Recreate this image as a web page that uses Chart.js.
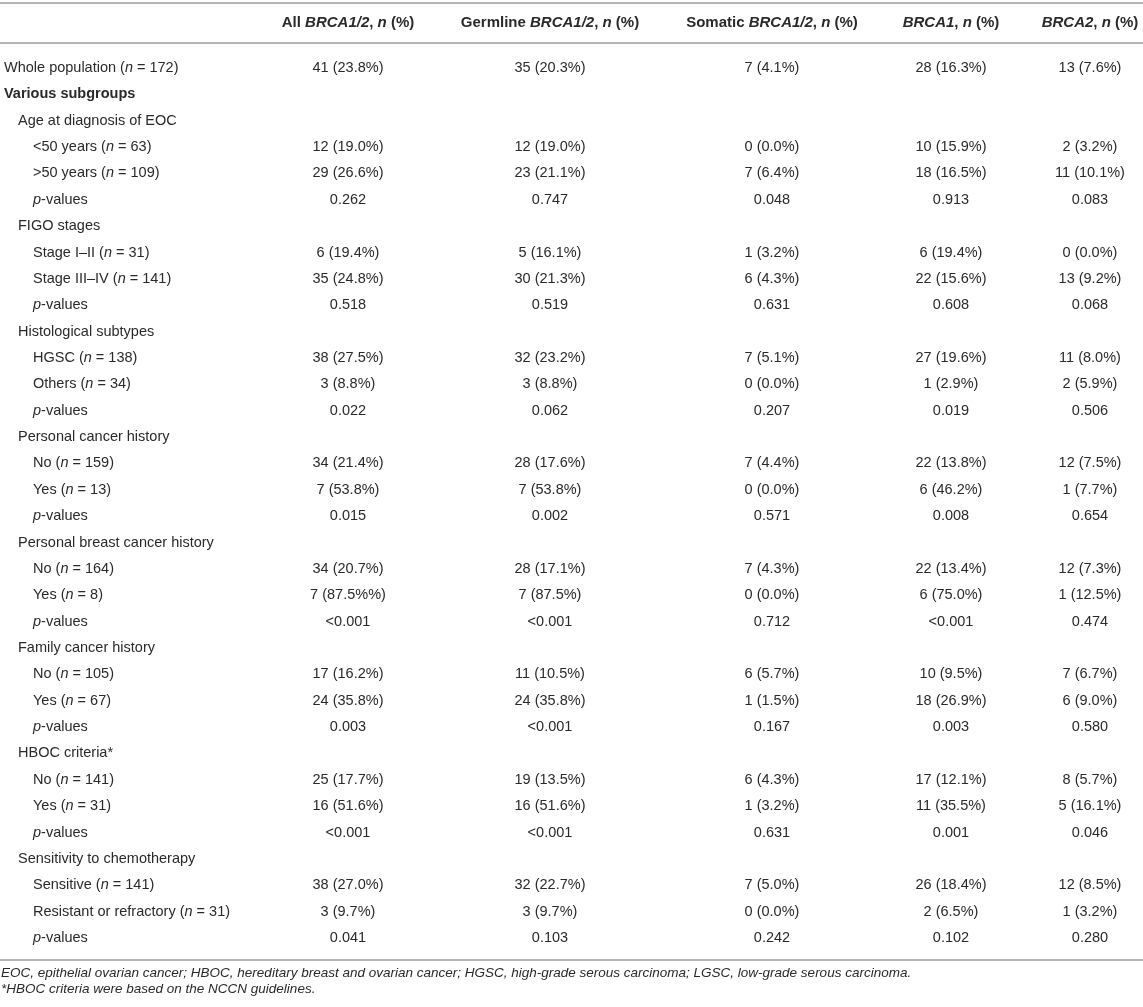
<!DOCTYPE html>
<html><head><meta charset="utf-8">
<script src="https://cdn.jsdelivr.net/npm/chart.js@4.4.0/dist/chart.umd.min.js"></script>
<style>html,body{margin:0;padding:0;background:#fff;}canvas{display:block;}</style>
</head><body>
<canvas id="c" width="1143" height="1007" style="width:1143px;height:1007px"></canvas>
<script>
// ---- data (underscores mark italic segments) ----
const HEADERS = ["All _BRCA1/2_, _n_ (%)", "Germline _BRCA1/2_, _n_ (%)", "Somatic _BRCA1/2_, _n_ (%)", "_BRCA1_, _n_ (%)", "_BRCA2_, _n_ (%)"];
const ROW_LABELS = [
  "Whole population (_n_ = 172)", "Various subgroups",
  "Age at diagnosis of EOC", "<50 years (_n_ = 63)", ">50 years (_n_ = 109)", "_p_-values",
  "FIGO stages", "Stage I–II (_n_ = 31)", "Stage III–IV (_n_ = 141)", "_p_-values",
  "Histological subtypes", "HGSC (_n_ = 138)", "Others (_n_ = 34)", "_p_-values",
  "Personal cancer history", "No (_n_ = 159)", "Yes (_n_ = 13)", "_p_-values",
  "Personal breast cancer history", "No (_n_ = 164)", "Yes (_n_ = 8)", "_p_-values",
  "Family cancer history", "No (_n_ = 105)", "Yes (_n_ = 67)", "_p_-values",
  "HBOC criteria*", "No (_n_ = 141)", "Yes (_n_ = 31)", "_p_-values",
  "Sensitivity to chemotherapy", "Sensitive (_n_ = 141)", "Resistant or refractory (_n_ = 31)", "_p_-values"
];
const ALL_BRCA = ["41 (23.8%)", null, null, "12 (19.0%)", "29 (26.6%)", "0.262", null, "6 (19.4%)", "35 (24.8%)", "0.518", null, "38 (27.5%)", "3 (8.8%)", "0.022", null, "34 (21.4%)", "7 (53.8%)", "0.015", null, "34 (20.7%)", "7 (87.5%%)", "<0.001", null, "17 (16.2%)", "24 (35.8%)", "0.003", null, "25 (17.7%)", "16 (51.6%)", "<0.001", null, "38 (27.0%)", "3 (9.7%)", "0.041"];
const GERMLINE = ["35 (20.3%)", null, null, "12 (19.0%)", "23 (21.1%)", "0.747", null, "5 (16.1%)", "30 (21.3%)", "0.519", null, "32 (23.2%)", "3 (8.8%)", "0.062", null, "28 (17.6%)", "7 (53.8%)", "0.002", null, "28 (17.1%)", "7 (87.5%)", "<0.001", null, "11 (10.5%)", "24 (35.8%)", "<0.001", null, "19 (13.5%)", "16 (51.6%)", "<0.001", null, "32 (22.7%)", "3 (9.7%)", "0.103"];
const SOMATIC = ["7 (4.1%)", null, null, "0 (0.0%)", "7 (6.4%)", "0.048", null, "1 (3.2%)", "6 (4.3%)", "0.631", null, "7 (5.1%)", "0 (0.0%)", "0.207", null, "7 (4.4%)", "0 (0.0%)", "0.571", null, "7 (4.3%)", "0 (0.0%)", "0.712", null, "6 (5.7%)", "1 (1.5%)", "0.167", null, "6 (4.3%)", "1 (3.2%)", "0.631", null, "7 (5.0%)", "0 (0.0%)", "0.242"];
const BRCA1 = ["28 (16.3%)", null, null, "10 (15.9%)", "18 (16.5%)", "0.913", null, "6 (19.4%)", "22 (15.6%)", "0.608", null, "27 (19.6%)", "1 (2.9%)", "0.019", null, "22 (13.8%)", "6 (46.2%)", "0.008", null, "22 (13.4%)", "6 (75.0%)", "<0.001", null, "10 (9.5%)", "18 (26.9%)", "0.003", null, "17 (12.1%)", "11 (35.5%)", "0.001", null, "26 (18.4%)", "2 (6.5%)", "0.102"];
const BRCA2 = ["13 (7.6%)", null, null, "2 (3.2%)", "11 (10.1%)", "0.083", null, "0 (0.0%)", "13 (9.2%)", "0.068", null, "11 (8.0%)", "2 (5.9%)", "0.506", null, "12 (7.5%)", "1 (7.7%)", "0.654", null, "12 (7.3%)", "1 (12.5%)", "0.474", null, "7 (6.7%)", "6 (9.0%)", "0.580", null, "8 (5.7%)", "5 (16.1%)", "0.046", null, "12 (8.5%)", "1 (3.2%)", "0.280"];
const FOOTNOTES = [
  "EOC, epithelial ovarian cancer; HBOC, hereditary breast and ovarian cancer; HGSC, high-grade serous carcinoma; LGSC, low-grade serous carcinoma.",
  "*HBOC criteria were based on the NCCN guidelines."
];

// ---- layout / style ----
const SERIES = [ALL_BRCA, GERMLINE, SOMATIC, BRCA1, BRCA2];
const COL_CENTER = [348, 550, 772, 951, 1090];       // table units (x scale 0..1143)
const ROW_INDENT = [4, 4, 18, 33, 33, 33, 18, 33, 33, 33, 18, 33, 33, 33, 18, 33, 33, 33, 18, 33, 33, 33, 18, 33, 33, 33, 18, 33, 33, 33, 18, 33, 33, 33];
const ROW_BOLD = [false, true];
const FAMILY = '"Liberation Sans", Arial, Helvetica, sans-serif';
const TEXT = '#2a2a2a';
const RULE = '#b5b5b5';
const BODY_SIZE = 14.5, HEAD_SIZE = 15, FOOT_SIZE = 13.5;

function drawRich(ctx, str, x, y, size, bold, align, allItalic) {
  const parts = str.split('_');
  const segs = parts.map((t, i) => ({t, it: allItalic || i % 2 === 1}));
  const fontFor = s => `${s.it ? 'italic ' : ''}${bold ? 'bold ' : ''}${size}px ${FAMILY}`;
  let total = 0;
  segs.forEach(s => { ctx.font = fontFor(s); s.w = ctx.measureText(s.t).width; total += s.w; });
  let cx = align === 'center' ? x - total / 2 : x;
  ctx.textAlign = 'left';
  ctx.textBaseline = 'middle';
  segs.forEach(s => { ctx.font = fontFor(s); ctx.fillText(s.t, cx, y); cx += s.w; });
}

const tablePlugin = {
  id: 'tablePlugin',
  afterDatasetsDraw(chart) {
    const ctx = chart.ctx;
    const xs = chart.scales.x, ys = chart.scales.y;
    ctx.save();
    ctx.fillStyle = TEXT;
    // rules
    ctx.strokeStyle = RULE; ctx.lineWidth = 2;
    [3, 43, 960].forEach(y => { ctx.beginPath(); ctx.moveTo(0, y); ctx.lineTo(chart.width, y); ctx.stroke(); });
    // headers
    HEADERS.forEach((h, c) => drawRich(ctx, h, xs.getPixelForValue(COL_CENTER[c]), 23, HEAD_SIZE, true, 'center'));
    // row labels
    ROW_LABELS.forEach((lab, r) => drawRich(ctx, lab, ROW_INDENT[r], ys.getPixelForValue(r), BODY_SIZE, !!ROW_BOLD[r], 'left'));
    // cells from dataset elements
    chart.data.datasets.forEach((ds, di) => {
      const meta = chart.getDatasetMeta(di);
      meta.data.forEach((el, j) => drawRich(ctx, ds.data[j].text, el.x, el.y, BODY_SIZE, false, 'center'));
    });
    // footnotes
    drawRich(ctx, FOOTNOTES[0], 1, 973, FOOT_SIZE, false, 'left', true);
    drawRich(ctx, FOOTNOTES[1], 1, 989, FOOT_SIZE, false, 'left', true);
    ctx.restore();
  }
};

const datasets = SERIES.map((vals, c) => ({
  label: HEADERS[c],
  data: vals.map((v, r) => v === null ? null : {x: COL_CENTER[c], y: r, text: v}).filter(d => d),
  pointRadius: 0, pointHoverRadius: 0, showLine: false
}));

new Chart(document.getElementById('c'), {
  type: 'scatter',
  data: {datasets},
  options: {
    responsive: false, animation: false, events: [],
    layout: {padding: {left: 0, right: 0, top: 54.8, bottom: 55.8}},
    plugins: {legend: {display: false}, tooltip: {enabled: false}},
    scales: {
      x: {type: 'linear', display: false, min: 0, max: 1143},
      y: {type: 'linear', display: false, min: -0.5, max: 33.5, reverse: true}
    }
  },
  plugins: [tablePlugin]
});
</script>
</body></html>
